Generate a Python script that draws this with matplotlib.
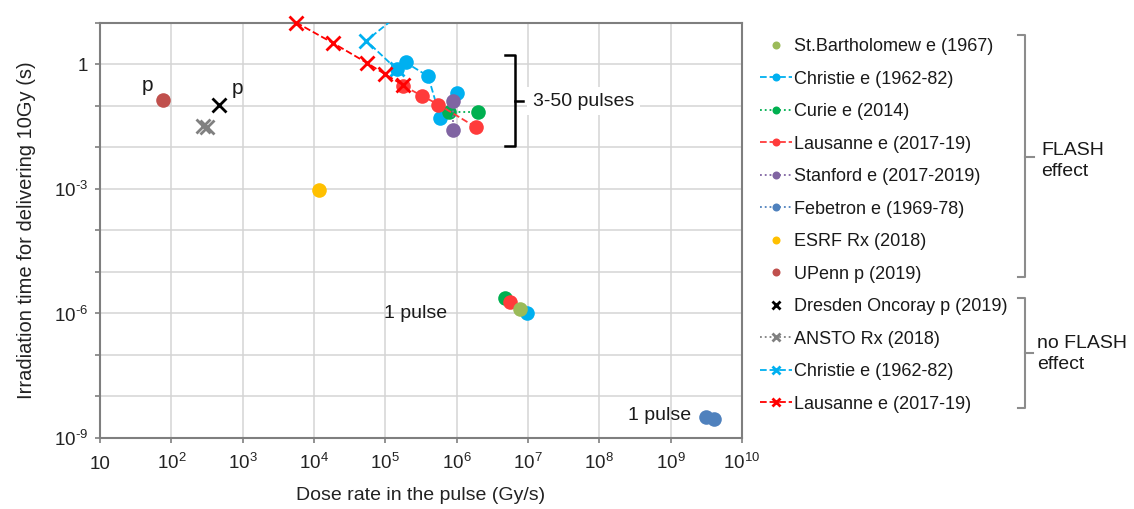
import matplotlib
matplotlib.use("Agg")
import matplotlib.pyplot as plt
from matplotlib.lines import Line2D
import numpy as np

plt.rcParams['font.family'] = ['Liberation Sans', 'DejaVu Sans']
plt.rcParams['mathtext.fontset'] = 'custom'
plt.rcParams['mathtext.rm'] = 'Liberation Sans'

# ---------------- data (dose rate in pulse [Gy/s], irradiation time [s]) ----
stbart_x = [7.8e6]
stbart_y = [1.3e-6]

christie_x = [1.45e5, 1.93e5, 3.98e5, 5.9e5, 1.0e6]
christie_y = [0.74, 1.09, 0.51, 0.051, 0.197]
christie_1p_x = [9.7e6]
christie_1p_y = [1.04e-6]

curie_x = [7.7e5, 2.0e6]
curie_y = [0.069, 0.069]
curie_1p_x = [4.8e6]
curie_1p_y = [2.4e-6]

lausanne_x = [1.79e5, 3.25e5, 5.56e5, 1.87e6]
lausanne_y = [0.30, 0.172, 0.106, 0.030]
lausanne_1p_x = [5.6e6]
lausanne_1p_y = [1.9e-6]

stanford_x = [8.9e5, 8.9e5]
stanford_y = [0.13, 0.026]

febetron_x = [3.15e9, 4.0e9]
febetron_y = [3.2e-9, 2.8e-9]

esrf_x = [1.17e4]
esrf_y = [9.2e-4]

upenn_x = [77]
upenn_y = [0.136]

dresden_x = [470]
dresden_y = [0.103]

ansto_x = [280, 318]
ansto_y = [0.033, 0.031]

christie_nf_x = [2.5e5, 5.4e4, 1.45e5]
christie_nf_y = [30.0, 3.65, 0.74]

lausanne_nf_x = [5.6e3, 1.85e4, 5.56e4, 9.9e4, 1.78e5]
lausanne_nf_y = [10.0, 3.2, 1.06, 0.57, 0.31]

xtick_vals = [10.0 ** k for k in range(1, 11)]
xtick_labels = ['10'] + [r'$\mathregular{10^{%d}}$' % k for k in range(2, 11)]
ytick_vals = [1e-9, 1e-6, 1e-3, 1.0]
ytick_labels = ['10$^{\\mathregular{-9}}$'.replace('-', '\u2010'),
                '10$^{\\mathregular{-6}}$'.replace('-', '\u2010'),
                '10$^{\\mathregular{-3}}$'.replace('-', '\u2010'), '1']

# ---------------- figure ----------------------------------------------------
W, H = 1134, 509
fig = plt.figure(figsize=(W / 100, H / 100), dpi=100)
L, R, T, B = 100, 742, 22.5, 438
ax = fig.add_axes([L / W, 1 - B / H, (R - L) / W, (B - T) / H])
ax.set_xscale('log')
ax.set_yscale('log')
ax.set_xlim(10, 1e10)
ax.set_ylim(1e-9, 10)

MS = 10.5
XMS = 10
lw = 1.3

C_STB = '#9BBB59'
C_CHR = '#00B0F0'
C_CUR = '#00B050'
C_LAU = '#FF3B3B'
C_LAUX = '#FF0000'
C_STA = '#8064A2'
C_FEB = '#4F81BD'
C_ESR = '#FFC000'
C_UPE = '#C0504D'
C_ANS = '#808080'

h_stb, = ax.plot(stbart_x, stbart_y, ls='none', marker='o', ms=MS, mew=0, color=C_STB, zorder=3)
h_chr, = ax.plot(christie_x, christie_y, ls='--', lw=lw, marker='o', ms=MS, mew=0, color=C_CHR, zorder=4)
ax.plot(christie_1p_x, christie_1p_y, ls='none', marker='o', ms=MS, mew=0, color=C_CHR, zorder=2.9)
h_cur, = ax.plot(curie_x, curie_y, ls=':', lw=lw, marker='o', ms=MS, mew=0, color=C_CUR, zorder=5)
ax.plot(curie_1p_x, curie_1p_y, ls='none', marker='o', ms=MS, mew=0, color=C_CUR, zorder=2.7)
h_lau, = ax.plot(lausanne_x, lausanne_y, ls='--', lw=lw, marker='o', ms=MS, mew=0, color=C_LAU, zorder=6)
ax.plot(lausanne_1p_x, lausanne_1p_y, ls='none', marker='o', ms=MS, mew=0, color=C_LAU, zorder=2.8)
h_sta, = ax.plot(stanford_x, stanford_y, ls=':', lw=lw, marker='o', ms=MS, mew=0, color=C_STA, zorder=5.5)
h_feb, = ax.plot(febetron_x, febetron_y, ls=':', lw=lw, marker='o', ms=MS, mew=0, color=C_FEB, zorder=3)
h_esr, = ax.plot(esrf_x, esrf_y, ls='none', marker='o', ms=MS, mew=0, color=C_ESR, zorder=3)
h_upe, = ax.plot(upenn_x, upenn_y, ls='none', marker='o', ms=MS, mew=0, color=C_UPE, zorder=3)
h_dre, = ax.plot(dresden_x, dresden_y, ls='none', marker='x', ms=XMS, mew=2, color='black', zorder=3)
h_ans, = ax.plot(ansto_x, ansto_y, ls=':', lw=lw, marker='x', ms=XMS, mew=2, color=C_ANS, zorder=3)
h_chx, = ax.plot(christie_nf_x, christie_nf_y, ls='--', lw=lw, marker='x', ms=XMS, mew=2, color=C_CHR, zorder=3.5)
h_lax, = ax.plot(lausanne_nf_x, lausanne_nf_y, ls='--', lw=lw, marker='x', ms=XMS, mew=2, color=C_LAUX, zorder=7, clip_on=False)

# ---------------- axes styling ----------------------------------------------
ax.set_xticks(xtick_vals)
ax.set_xticklabels(xtick_labels)
ax.set_yticks(ytick_vals)
ax.set_yticklabels(ytick_labels)
ax.xaxis.set_minor_locator(matplotlib.ticker.NullLocator())
ax.set_yticks([10.0 ** k for k in range(-8, 2) if k % 3 != 0], minor=True)
ax.yaxis.set_minor_formatter(matplotlib.ticker.NullFormatter())
ax.grid(True, which='both', color='#D4D4D4', lw=1.1, zorder=0)
ax.set_axisbelow(True)
for s in ax.spines.values():
    s.set_color('#7F7F7F')
    s.set_linewidth(1.5)
ax.tick_params(axis='both', which='both', length=3.5, width=1.2, color='#7F7F7F',
               labelsize=13.5, labelcolor='#222222')
ax.tick_params(axis='y', which='both', pad=5)
ax.tick_params(axis='x', which='both', pad=19)
for lab in ax.get_xticklabels():
    lab.set_verticalalignment('baseline')

ax.set_xlabel('Dose rate in the pulse (Gy/s)', fontsize=14, color='#222222', labelpad=10)
ax.set_ylabel('Irradiation time for delivering 10Gy (s)', fontsize=14.5, color='#222222', labelpad=13)

# ---------------- in-plot annotations ---------------------------------------
def fxy(px, py):
    return (px / W, 1 - py / H)

tc = '#1a1a1a'
fig.text(*fxy(147, 86), 'p', fontsize=15, ha='center', va='center', color=tc)
fig.text(*fxy(237, 88), 'p', fontsize=15, ha='center', va='center', color=tc)
fig.text(*fxy(447, 314), '1 pulse', fontsize=14, ha='right', va='center', color=tc)
fig.text(*fxy(691, 416), '1 pulse', fontsize=14, ha='right', va='center', color=tc)
fig.text(*fxy(533, 101), '3-50 pulses', fontsize=14, ha='left', va='center', color=tc,
         bbox=dict(boxstyle='square,pad=0.3', fc='white', ec='none'))

def bracket(x_v, x_end, x_tick, y_top, y_bot, y_mid, color, lw_b):
    xs = [x_end, x_v, x_v, x_end]
    ys = [y_top, y_top, y_bot, y_bot]
    fig.add_artist(Line2D([p / W for p in xs], [1 - q / H for q in ys],
                          transform=fig.transFigure, color=color, lw=lw_b, zorder=8))
    fig.add_artist(Line2D([x_v / W, x_tick / W], [1 - y_mid / H, 1 - y_mid / H],
                          transform=fig.transFigure, color=color, lw=lw_b, zorder=8))

bracket(515, 505, 523, 55, 146, 101, 'black', 1.8)
bracket(1025, 1018, 1034, 35, 277, 157, '#8C8C8C', 1.5)
bracket(1025, 1018, 1033, 298, 408, 353, '#8C8C8C', 1.5)
fig.text(*fxy(1041, 161), 'FLASH\neffect', fontsize=14, ha='left', va='center',
         color=tc, linespacing=1.25)
fig.text(*fxy(1037, 354), 'no FLASH\neffect', fontsize=14, ha='left', va='center',
         color=tc, linespacing=1.25)

# ---------------- legend ----------------------------------------------------
handles = [h_stb, h_chr, h_cur, h_lau, h_sta, h_feb, h_esr, h_upe, h_dre, h_ans, h_chx, h_lax]
labels = ['St.Bartholomew e (1967)', 'Christie e (1962-82)', 'Curie e (2014)',
          'Lausanne e (2017-19)', 'Stanford e (2017-2019)', 'Febetron e (1969-78)',
          'ESRF Rx (2018)', 'UPenn p (2019)', 'Dresden Oncoray p (2019)',
          'ANSTO Rx (2018)', 'Christie e (1962-82)', 'Lausanne e (2017-19)']
leg = fig.legend(handles, labels, loc='upper left', bbox_to_anchor=(760 / W, 1 - 38 / H),
                 bbox_transform=fig.transFigure, frameon=False, fontsize=13,
                 markerscale=0.55, handlelength=1.75, handletextpad=0.15,
                 labelspacing=0.86, borderpad=0, borderaxespad=0, numpoints=1)
for t in leg.get_texts():
    t.set_color(tc)

fig.savefig('out.png', dpi=100)
